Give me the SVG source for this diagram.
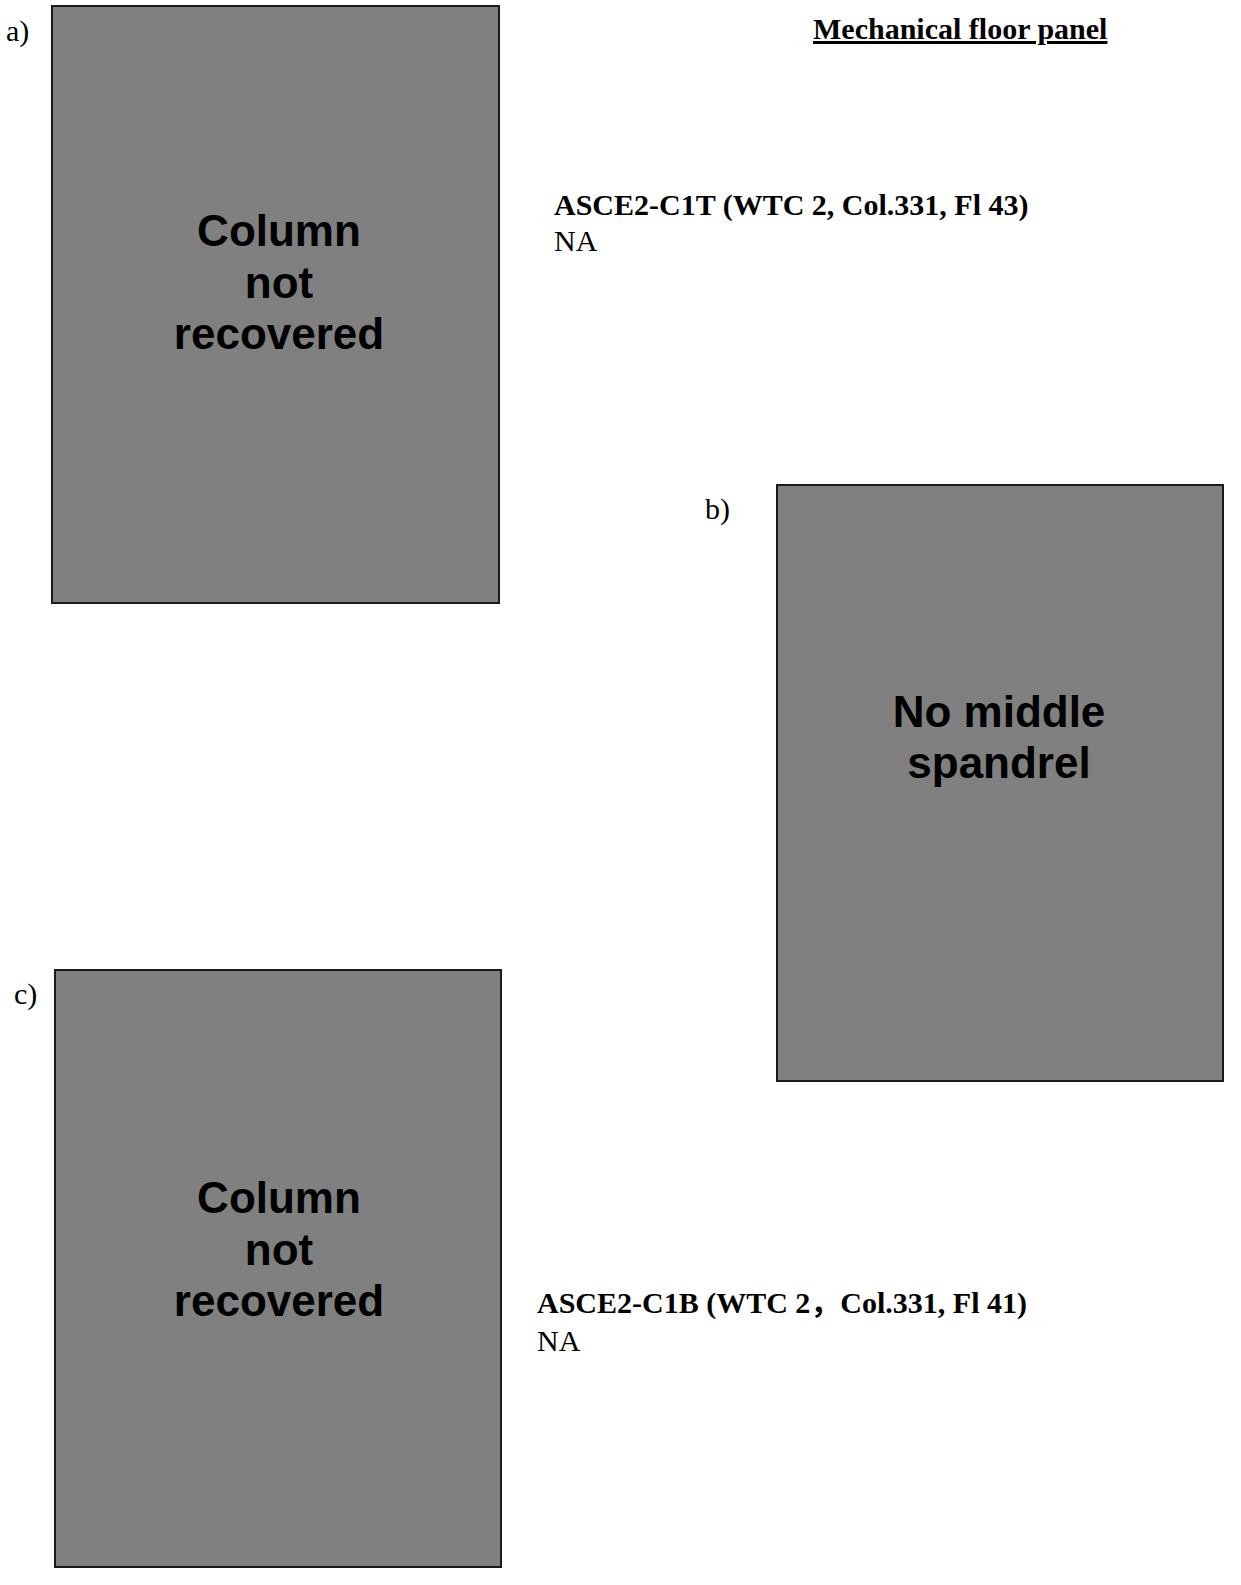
<svg xmlns="http://www.w3.org/2000/svg" width="1241" height="1585" viewBox="0 0 1241 1585">
<style>
.box{fill:#808080;stroke:#1a1a1a;stroke-width:2}
.big{font-family:"Liberation Sans",Arial,sans-serif;font-weight:bold;font-size:44px;fill:#000;text-anchor:middle}
.ser{font-family:"Liberation Serif","Times New Roman","Noto Sans CJK SC",serif;font-size:30px;fill:#000}
.b{font-weight:bold}
</style>
<rect width="1241" height="1585" fill="#fff"/>
<text class="ser" x="6" y="41">a)</text>
<text class="ser b" x="813" y="39" text-decoration="underline">Mechanical floor panel</text>
<g id="panel-a">
<rect class="box" x="52" y="6" width="447" height="597"/>
<text class="big" x="279" y="246">Column</text>
<text class="big" x="279" y="298">not</text>
<text class="big" x="279" y="349">recovered</text>
</g>
<g id="label-a">
<text class="ser b" x="554" y="215">ASCE2-C1T (WTC 2, Col.331, Fl 43)</text>
<text class="ser" x="554" y="251">NA</text>
</g>
<text class="ser" x="705" y="519">b)</text>
<g id="panel-b">
<rect class="box" x="777" y="485" width="446" height="596"/>
<text class="big" x="999" y="727">No middle</text>
<text class="big" x="999" y="778">spandrel</text>
</g>
<text class="ser" x="14" y="1004">c)</text>
<g id="panel-c">
<rect class="box" x="55" y="970" width="446" height="597"/>
<text class="big" x="279" y="1213">Column</text>
<text class="big" x="279" y="1265">not</text>
<text class="big" x="279" y="1316">recovered</text>
</g>
<g id="label-c">
<text class="ser b" x="537" y="1313">ASCE2-C1B (WTC 2<tspan font-family="'Noto Sans CJK SC',sans-serif">，</tspan>Col.331, Fl 41)</text>
<text class="ser" x="537" y="1351">NA</text>
</g>
</svg>
